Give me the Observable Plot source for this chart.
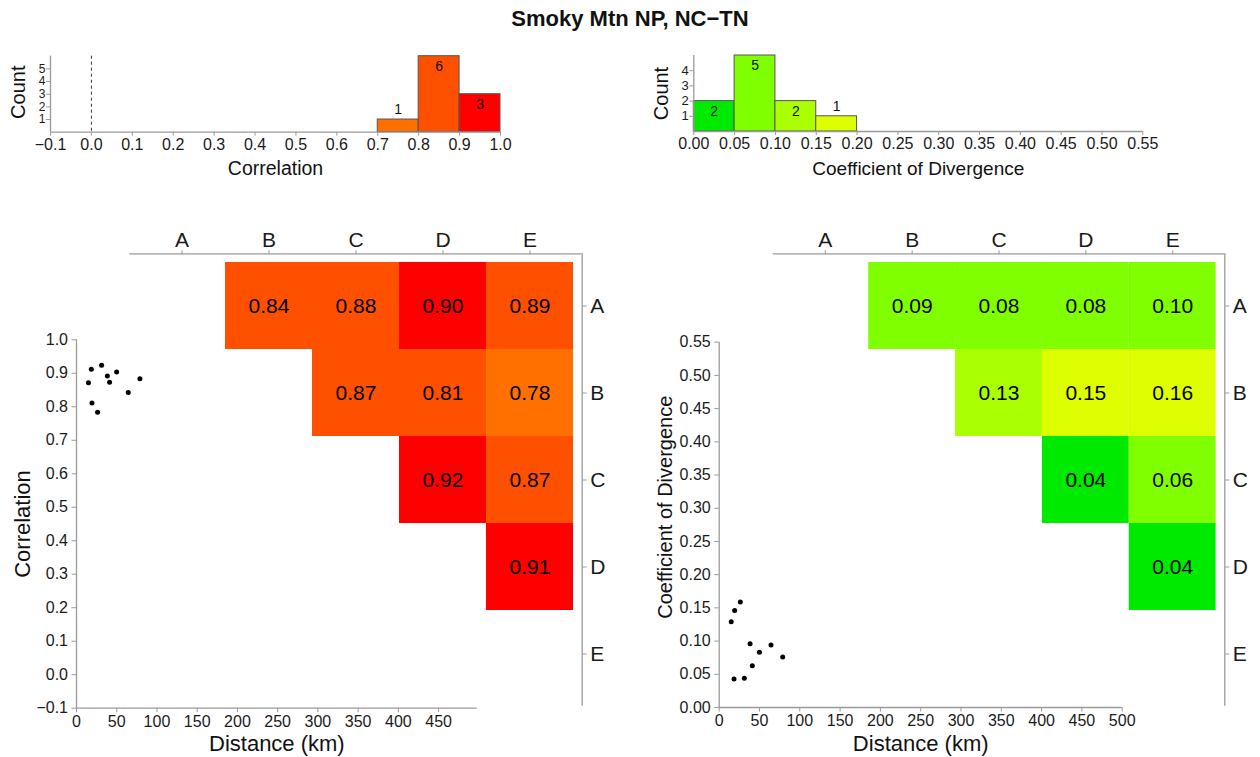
<!DOCTYPE html>
<html><head><meta charset="utf-8">
<script src="https://cdn.jsdelivr.net/npm/d3@7"></script>
<script src="https://cdn.jsdelivr.net/npm/@observablehq/plot@0.6"></script>
<style>
body{margin:0;background:#fff;}
#wrap{position:relative;width:1260px;height:757px;font-family:"Liberation Sans",Arial,sans-serif;overflow:hidden;}
#wrap svg{position:absolute;left:0;top:0;}
#title{position:absolute;left:0;top:6px;width:1260px;text-align:center;font-weight:bold;font-size:22px;color:#111;}
</style></head><body>
<div id="wrap"><div id="title">Smoky Mtn NP, NC−TN</div></div>
<script>
// ---- data ----
const sites = ["A", "B", "C", "D", "E"];
const site1 = ["A", "A", "A", "A", "B", "B", "B", "C", "C", "D"];
const site2 = ["B", "C", "D", "E", "C", "D", "E", "D", "E", "E"];
const distance = [64.3, 78.8, 49.9, 38.3, 14.9, 19.2, 26.2, 31.2, 41.1, 18.4];
const correlation = [0.843, 0.884, 0.904, 0.892, 0.872, 0.811, 0.784, 0.924, 0.873, 0.912];
const cod = [0.094, 0.076, 0.083, 0.096, 0.129, 0.146, 0.159, 0.044, 0.063, 0.043];

// histogram bin edges / tick labels
const corrHistEdges = [-0.1, 0.0, 0.1, 0.2, 0.3, 0.4, 0.5, 0.6, 0.7, 0.8, 0.9, 1.0];
const codHistEdges = [0.00, 0.05, 0.10, 0.15, 0.20, 0.25, 0.30, 0.35, 0.40, 0.45, 0.50, 0.55];
const corrCountTicks = [1, 2, 3, 4, 5];
const codCountTicks = [1, 2, 3, 4];
const distTicksLeft = [0, 50, 100, 150, 200, 250, 300, 350, 400, 450];
const distTicksRight = [0, 50, 100, 150, 200, 250, 300, 350, 400, 450, 500];
const corrTicks = [-0.1, 0.0, 0.1, 0.2, 0.3, 0.4, 0.5, 0.6, 0.7, 0.8, 0.9, 1.0];
const codTicks = [0.00, 0.05, 0.10, 0.15, 0.20, 0.25, 0.30, 0.35, 0.40, 0.45, 0.50, 0.55];

// colour classes
const corrThresholds = [0.8, 0.9];
const corrColors = ["#FF7000", "#FF5000", "#FF0000"];
const codThresholds = [0.05, 0.10, 0.14];
const codColors = ["#00EA00", "#80FF00", "#AAFF00", "#DDFF00"];

// ---- derived table ----
const pairs = site1.map((s, i) => ({
  s1: s, s2: site2[i], distance: distance[i], corr: correlation[i], cod: cod[i]
}));
const rowIdx = d => sites.indexOf(d.s1) + 1;
const colIdx = d => sites.indexOf(d.s2) + 1;

function binCounts(values, edges) {
  return d3.bin().domain([edges[0], edges[edges.length - 1]]).thresholds(edges.slice(1, -1))(values)
    .filter(b => b.length > 0)
    .map(b => ({x1: b.x0, x2: b.x1, mid: (b.x0 + b.x1) / 2, count: b.length}));
}
const corrBins = binCounts(correlation, corrHistEdges);
const codBins = binCounts(cod, codHistEdges);

// ---- styling ----
const W = 1260, H = 757;
const FONT = "'Liberation Sans', Arial, Helvetica, sans-serif";
const AX = "#9a9a9a", TXT = "#1a1a1a";
const style = fs => ({background: "transparent", fontFamily: FONT, overflow: "visible", color: TXT, fontSize: fs + "px"});
const fmt = k => d => d.toFixed(k).replace("-", "\u2212");
const intFmt = d => String(d);
const TT = {fill: "#111", lineAnchor: "middle", textAnchor: "middle"};

const wrap = document.getElementById("wrap");
function add(p) { wrap.appendChild(p); }

// ---- top-left histogram (correlation) ----
const corrX = [corrHistEdges[0], corrHistEdges[corrHistEdges.length - 1]];
add(Plot.plot({
  width: W, height: H,
  marginLeft: 50, marginRight: 760, marginTop: 55.7, marginBottom: 625.3,
  x: {domain: corrX}, y: {domain: [0, 6]},
  color: {type: "threshold", domain: corrThresholds, range: corrColors},
  style: style(16),
  marks: [
    Plot.rect(corrBins, {x1: "x1", x2: "x2", y1: 0, y2: "count", fill: "mid", stroke: "#555", strokeWidth: 1}),
    Plot.ruleX([0], {stroke: "#333", strokeDasharray: "3,3", strokeWidth: 1}),
    Plot.ruleY([0], {stroke: AX, strokeWidth: 1.3}),
    Plot.ruleX([corrX[0]], {stroke: AX, strokeWidth: 1.3}),
    Plot.axisX({ticks: corrHistEdges, tickFormat: fmt(1), tickSize: 4, tickPadding: 2, fontSize: 16, stroke: AX, color: TXT, label: null}),
    Plot.axisY({ticks: corrCountTicks, tickFormat: intFmt, tickSize: 4, tickPadding: 1, fontSize: 12, stroke: AX, color: TXT, label: null}),
    Plot.text(corrBins.filter(b => b.count > 1), {x: "mid", y: "count", text: "count", dy: 10, fontSize: 14, fill: "#111"}),
    Plot.text(corrBins.filter(b => b.count <= 1), {x: "mid", y: "count", text: "count", dy: -10, fontSize: 14, fill: "#111"}),
    Plot.text(["Correlation"], {...TT, text: d => d, frameAnchor: "bottom", dy: 36.6, fontSize: 19.5}),
    Plot.text(["Count"], {...TT, text: d => d, frameAnchor: "left", dx: -31.7, dy: -2, rotate: -90, fontSize: 20})
  ]
}));

// ---- top-right histogram (COD) ----
const codX = [codHistEdges[0], codHistEdges[codHistEdges.length - 1]];
add(Plot.plot({
  width: W, height: H,
  marginLeft: 693.3, marginRight: 117.7, marginTop: 55, marginBottom: 626,
  x: {domain: codX}, y: {domain: [0, 5]},
  color: {type: "threshold", domain: codThresholds, range: codColors},
  style: style(16),
  marks: [
    Plot.rect(codBins, {x1: "x1", x2: "x2", y1: 0, y2: "count", fill: "mid", stroke: "#555", strokeWidth: 1}),
    Plot.ruleY([0], {stroke: AX, strokeWidth: 1.3}),
    Plot.ruleX([codX[0]], {stroke: AX, strokeWidth: 1.3}),
    Plot.axisX({ticks: codHistEdges, tickFormat: fmt(2), tickSize: 4, tickPadding: 2, fontSize: 16, stroke: AX, color: TXT, label: null}),
    Plot.axisY({ticks: codCountTicks, tickFormat: intFmt, tickSize: 4, tickPadding: 1, fontSize: 13, stroke: AX, color: TXT, label: null}),
    Plot.text(codBins.filter(b => b.count > 1), {x: "mid", y: "count", text: "count", dy: 10, fontSize: 14, fill: "#111"}),
    Plot.text(codBins.filter(b => b.count <= 1), {x: "mid", y: "count", text: "count", dy: -10, fontSize: 14, fill: "#111"}),
    Plot.text(["Coefficient of Divergence"], {...TT, text: d => d, frameAnchor: "bottom", dy: 37, fontSize: 19}),
    Plot.text(["Count"], {...TT, text: d => d, frameAnchor: "left", dx: -32.6, rotate: -90, fontSize: 20})
  ]
}));

// ---- bottom-left scatter (correlation vs distance) ----
const distXL = [0, 498], corrY = [corrTicks[0], corrTicks[corrTicks.length - 1]];
add(Plot.plot({
  width: W, height: H,
  marginLeft: 76, marginRight: 783.3, marginTop: 339.3, marginBottom: 49.3,
  x: {domain: distXL}, y: {domain: corrY},
  style: style(16),
  marks: [
    Plot.ruleY([corrY[0]], {stroke: AX, strokeWidth: 1.3}),
    Plot.ruleX([distXL[0]], {stroke: AX, strokeWidth: 1.3}),
    Plot.axisX({ticks: distTicksLeft, tickSize: 4.5, tickPadding: 3, fontSize: 16, stroke: AX, color: TXT, label: null}),
    Plot.axisY({ticks: corrTicks, tickFormat: fmt(1), tickSize: 4.5, tickPadding: 4, fontSize: 16, stroke: AX, color: TXT, label: null}),
    Plot.dot(pairs, {x: "distance", y: "corr", r: 2.5, fill: "#000", stroke: "none"}),
    Plot.text(["Distance (km)"], {...TT, text: d => d, frameAnchor: "bottom", dy: 35.6, fontSize: 22}),
    Plot.text(["Correlation"], {...TT, text: d => d, frameAnchor: "left", dx: -53.5, rotate: -90, fontSize: 22})
  ]
}));

// ---- bottom-right scatter (COD vs distance) ----
const distXR = [0, 500], codY = [codTicks[0], codTicks[codTicks.length - 1]];
add(Plot.plot({
  width: W, height: H,
  marginLeft: 718.7, marginRight: 138.3, marginTop: 341.7, marginBottom: 50,
  x: {domain: distXR}, y: {domain: codY},
  style: style(16),
  marks: [
    Plot.ruleY([codY[0]], {stroke: AX, strokeWidth: 1.3}),
    Plot.ruleX([distXR[0]], {stroke: AX, strokeWidth: 1.3}),
    Plot.axisX({ticks: distTicksRight, tickSize: 4.5, tickPadding: 3, fontSize: 16, stroke: AX, color: TXT, label: null}),
    Plot.axisY({ticks: codTicks, tickFormat: fmt(2), tickSize: 4.5, tickPadding: 4, fontSize: 16, stroke: AX, color: TXT, label: null}),
    Plot.dot(pairs, {x: "distance", y: "cod", r: 2.5, fill: "#000", stroke: "none"}),
    Plot.text(["Distance (km)"], {...TT, text: d => d, frameAnchor: "bottom", dy: 36, fontSize: 22}),
    Plot.text(["Coefficient of Divergence"], {...TT, text: d => d, frameAnchor: "left", dx: -53.7, dy: -17.6, rotate: -90, fontSize: 20})
  ]
}));

// ---- matrices ----
const matDomain = [0.4, 5.6];
const siteTicks = sites.map((s, i) => i + 1);
function matrix(field, thresholds, colors, mLeft, mRight) {
  return Plot.plot({
    width: W, height: H,
    marginLeft: mLeft, marginRight: mRight, marginTop: 253.3, marginBottom: 51.3,
    x: {domain: matDomain}, y: {domain: matDomain, reverse: true},
    color: {type: "threshold", domain: thresholds, range: colors},
    style: style(21),
    marks: [
      Plot.rect(pairs, {x1: d => colIdx(d) - 0.5, x2: d => colIdx(d) + 0.5, y1: d => rowIdx(d) - 0.5, y2: d => rowIdx(d) + 0.5, fill: field}),
      Plot.text(pairs, {x: colIdx, y: rowIdx, text: d => d[field].toFixed(2), fontSize: 21, fill: "#000"}),
      Plot.ruleY([matDomain[0]], {stroke: AX, strokeWidth: 1.3}),
      Plot.ruleX([matDomain[1]], {stroke: AX, strokeWidth: 1.3}),
      Plot.axisX({anchor: "top", ticks: siteTicks, tickFormat: i => sites[i - 1], tickSize: 4, tickPadding: 3, fontSize: 21, stroke: AX, color: TXT, label: null}),
      Plot.axisY({anchor: "right", ticks: siteTicks, tickFormat: i => sites[i - 1], tickSize: 4, tickPadding: 4, fontSize: 21, stroke: AX, color: TXT, label: null})
    ]
  });
}
add(matrix("corr", corrThresholds, corrColors, 129.3, 678.3));
add(matrix("cod", codThresholds, codColors, 772.7, 35.7));
</script>
</body></html>
